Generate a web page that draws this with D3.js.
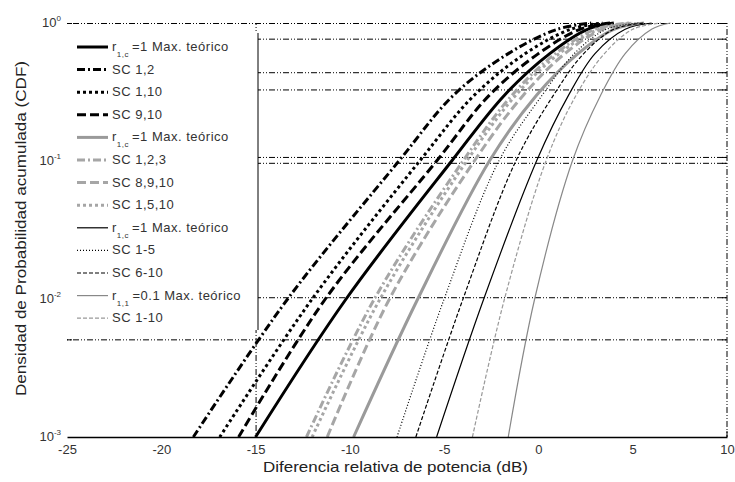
<!DOCTYPE html>
<html>
<head>
<meta charset="utf-8">
<script src="https://cdn.jsdelivr.net/npm/d3@7"></script>
<style>
  body { margin: 0; background: #fff; }
  text { font-family: "Liberation Sans", Arial, sans-serif; fill: #222; }
</style>
</head>
<body>
<div id="vis"></div>
<script>
var probLevels = [0.001, 0.01, 0.1, 0.3, 0.6, 0.9, 1.0];

// x (dB) of each curve at those probability levels
var blackSolid     = [-15.0, -10.2, -4.6, -1.8, 0.6, 2.6, 4.0];
var blackDashDot   = [-18.3, -13.3, -7.4, -4.5, -1.6, 1.0, 2.8];
var blackDotted    = [-16.9, -12.0, -6.3, -3.4, -0.7, 1.7, 3.4];
var blackDashed    = [-15.9, -11.3, -5.4, -2.6, 0.0, 2.2, 3.8];
var graySolid      = [-9.8, -6.4, -2.6, -0.1, 2.1, 4.0, 5.6];
var grayDashDot    = [-12.3, -8.7, -4.0, -1.4, 0.9, 3.0, 4.8];
var grayDashed     = [-11.2, -7.9, -3.4, -0.8, 1.4, 3.4, 5.1];
var grayDotted     = [-12.0, -8.4, -3.8, -1.2, 1.1, 3.2, 5.0];
var thinSolid      = [-5.4, -2.9, -0.1, 1.6, 3.0, 4.6, 6.0];
var thinDotted     = [-7.5, -5.0, -2.1, 0.2, 1.9, 3.6, 5.3];
var thinDashed     = [-6.5, -4.0, -1.2, 0.8, 2.4, 4.0, 5.6];
var thinGraySolid  = [-1.6, -0.2, 1.8, 3.3, 4.6, 6.0, 7.0];
var thinGrayDashed = [-3.5, -1.8, 0.4, 2.0, 3.5, 5.0, 6.5];

var legendLabels = [
  ['r', '1,c', '=1 Max. teórico'],
  ['SC 1,2'], ['SC 1,10'], ['SC 9,10'],
  ['r', '1,c', '=1 Max. teórico'],
  ['SC 1,2,3'], ['SC 8,9,10'], ['SC 1,5,10'],
  ['r', '1,c', '=1 Max. teórico'],
  ['SC 1-5'], ['SC 6-10'],
  ['r', '1,1', '=0.1 Max. teórico'],
  ['SC 1-10']
];

var xTicks = [-25, -20, -15, -10, -5, 0, 5, 10];
var yTicks = [1, 0.1, 0.01, 0.001];
var yExp = ['0', '-1', '-2', '-3'];
var gridProbs = [1, 0.77, 0.44, 0.33, 0.107, 0.097, 0.0103, 0.0051];
var gridDb = [-15];

(function() {

  // line styles, same order as the legend
  var styles = [
    { d: blackSolid,     c: '#000', w: 3,   dash: null },
    { d: blackDashDot,   c: '#000', w: 3,   dash: '8,3,2,3' },
    { d: blackDotted,    c: '#000', w: 3,   dash: '3,3' },
    { d: blackDashed,    c: '#000', w: 3,   dash: '9,4' },
    { d: graySolid,      c: '#9a9a9a', w: 3, dash: null },
    { d: grayDashDot,    c: '#a6a6a6', w: 3, dash: '8,3,2,3' },
    { d: grayDashed,     c: '#a6a6a6', w: 3, dash: '9,4' },
    { d: grayDotted,     c: '#a6a6a6', w: 3, dash: '3,3' },
    { d: thinSolid,      c: '#000', w: 1.2, dash: null },
    { d: thinDotted,     c: '#000', w: 1.2, dash: '1,2' },
    { d: thinDashed,     c: '#000', w: 1.2, dash: '4,2' },
    { d: thinGraySolid,  c: '#888', w: 1.2, dash: null },
    { d: thinGrayDashed, c: '#999', w: 1.2, dash: '4,2' }
  ];

  var width = 735, height = 482;
  var pLeft = 67, pRight = 727, pTop = 23, pBottom = 437;
  var gridDash = '1,2,1,2,6,2';

  var svg = d3.select('#vis').append('svg')
    .attr('width', width).attr('height', height);

  var x = d3.scaleLinear().domain([-25, 10]).range([pLeft, pRight]);
  var y = d3.scaleLog().domain([0.001, 1]).range([pBottom, pTop]);

  // grid
  var grid = svg.append('g')
    .attr('transform', 'translate(' + pLeft + ',0)')
    .call(d3.axisLeft(y).tickValues(gridProbs).tickSize(-(pRight - pLeft)).tickFormat(''));
  grid.select('.domain').remove();
  grid.selectAll('line').attr('stroke', '#000').attr('stroke-dasharray', gridDash);

  var vgrid = svg.append('g')
    .attr('transform', 'translate(0,' + pBottom + ')')
    .call(d3.axisBottom(x).tickValues(gridDb).tickSize(-(pBottom - pTop)).tickFormat(''));
  vgrid.select('.domain').remove();
  vgrid.selectAll('line').attr('stroke', '#000').attr('stroke-dasharray', gridDash);

  // right border dotted
  svg.append('line')
    .attr('x1', pRight).attr('x2', pRight).attr('y1', pTop).attr('y2', pBottom)
    .attr('stroke', '#000').attr('stroke-dasharray', gridDash);

  // small tick marks on both sides
  var rt = svg.append('g').attr('transform', 'translate(' + pRight + ',0)')
    .call(d3.axisLeft(y).tickValues(gridProbs).tickSize(5).tickFormat(''));
  rt.select('.domain').remove();
  var lt = svg.append('g').attr('transform', 'translate(' + pLeft + ',0)')
    .call(d3.axisRight(y).tickValues(gridProbs).tickSize(5).tickFormat(''));
  lt.select('.domain').remove();

  // curves
  var line = d3.line()
    .x(function(d) { return x(d[0]); })
    .y(function(d) { return y(d[1]); })
    .curve(d3.curveCatmullRom.alpha(0.5));

  styles.forEach(function(s) {
    var pts = s.d.map(function(v, i) { return [v, probLevels[i]]; });
    svg.append('path')
      .datum(pts)
      .attr('d', line)
      .attr('fill', 'none')
      .attr('stroke', s.c)
      .attr('stroke-width', s.w)
      .attr('stroke-dasharray', s.dash);
  });

  // bottom axis
  var xAxis = svg.append('g')
    .attr('transform', 'translate(0,' + pBottom + ')')
    .call(d3.axisBottom(x).tickValues(xTicks).tickSize(0).tickPadding(8)
      .tickFormat(function(d) { return String(d); }));
  xAxis.select('.domain').attr('stroke', '#000').attr('stroke-width', 1.5);
  xAxis.selectAll('text').style('font-size', '13px').style('fill', '#333')
    .style('font-family', '"Liberation Sans", Arial, sans-serif');
  svg.append('line').attr('x1', pRight).attr('x2', pRight).attr('y1', pBottom).attr('y2', pBottom - 6)
    .attr('stroke', '#000');

  // y tick labels 10^n
  yTicks.forEach(function(v, i) {
    var t = svg.append('text')
      .attr('x', pLeft - 6).attr('y', y(v) + 4)
      .attr('text-anchor', 'end')
      .style('font-size', '13px').style('fill', '#333');
    t.append('tspan').text('10');
    t.append('tspan').attr('dy', -6).style('font-size', '8px').text(yExp[i]);
  });

  // legend
  var lg = svg.append('g');
  lg.append('rect').attr('x', pLeft).attr('y', 33).attr('width', 258 - pLeft).attr('height', 297)
    .attr('fill', '#fff');
  lg.append('line').attr('x1', 258).attr('x2', 258).attr('y1', 33).attr('y2', 330)
    .attr('stroke', '#000');

  legendLabels.forEach(function(lab, i) {
    var ly = 47 + i * 22.6;
    var s = styles[i];
    lg.append('line')
      .attr('x1', 77).attr('x2', 108).attr('y1', ly).attr('y2', ly)
      .attr('stroke', s.c).attr('stroke-width', s.w)
      .attr('stroke-dasharray', s.dash);
    var t = lg.append('text').attr('x', 112).attr('y', ly + 4)
      .style('font-size', '13px').style('letter-spacing', '0.5px').style('fill', '#333');
    t.append('tspan').text(lab[0]);
    if (lab.length > 1) {
      t.append('tspan').attr('dy', 6).style('font-size', '8px').text(lab[1]);
      t.append('tspan').attr('dy', -6).attr('dx', 3).text(lab[2]);
    }
  });

  // axis titles
  svg.append('text')
    .attr('x', 263).attr('y', 472)
    .attr('textLength', 265).attr('lengthAdjust', 'spacingAndGlyphs')
    .style('font-size', '15px')
    .text('Diferencia relativa de potencia (dB)');

  svg.append('text')
    .attr('transform', 'translate(26,' + 396 + ') rotate(-90)')
    .attr('textLength', 335).attr('lengthAdjust', 'spacingAndGlyphs')
    .style('font-size', '15px')
    .text('Densidad de Probabilidad acumulada (CDF)');

})();
</script>
</body>
</html>
